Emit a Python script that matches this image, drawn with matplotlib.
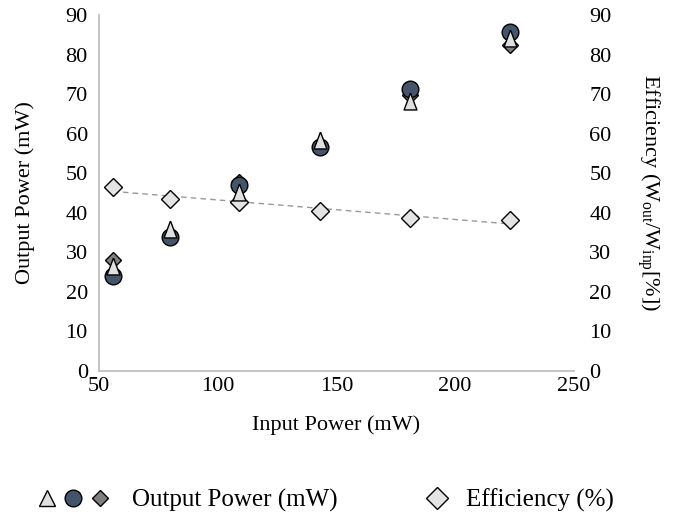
import numpy as np
import matplotlib as mpl
mpl.use('Agg')
import matplotlib.pyplot as plt
from matplotlib.legend_handler import HandlerTuple
from matplotlib.lines import Line2D

plt.rcParams['font.family'] = ['Liberation Serif', 'DejaVu Serif']
plt.rcParams['mathtext.fontset'] = 'custom'
plt.rcParams['mathtext.rm'] = 'Liberation Serif'

# input power (mW)
p_in = [56, 80, 109, 143, 181, 223]
# output power, three runs (mW)
out_tri = [26.5, 35.8, 45.2, 58.4, 68.3, 84.3]
out_circ = [24.0, 34.0, 47.0, 56.6, 71.3, 85.6]
out_diam = [28.0, 34.5, 47.8, 57.0, 69.8, 82.3]
# efficiency (%)
eff = [46.5, 43.5, 42.8, 40.5, 38.6, 38.1]

c_tri = '#e0e0e0'
c_circ = '#44546a'
c_diam = '#7f7f7f'
c_eff = '#e4e4e4'
fs = 16
lfs = 18

# tall excel-style triangle
tri = [(0, 0.5), (-0.38, -0.5), (0.38, -0.5), (0, 0.5)]

fig = plt.figure(figsize=(6.76, 5.25), dpi=100)
ax = fig.add_axes([0.1464, 0.2933, 0.7026, 0.6781])
ax2 = ax.twinx()

ax.plot(p_in, out_diam, 'D', ms=7.8, mfc=c_diam, mec='black', mew=1.0, zorder=3)
ax.plot(p_in, out_circ, 'o', ms=12, mfc=c_circ, mec='black', mew=1.0, zorder=4)
ax.plot(p_in, out_tri, ls='', marker=tri, ms=12.2, mfc=c_tri, mec='black',
        mew=1.0, zorder=5)

# linear trendline on efficiency
coef = np.polyfit(p_in, eff, 1)
xt = np.array([p_in[0], p_in[-1]])
ax2.plot(xt, np.polyval(coef, xt), '--', color='#999999', lw=1.0,
         dashes=(4, 3), zorder=2)
ax2.plot(p_in, eff, 'D', ms=9.6, mfc=c_eff, mec='black', mew=1.0, zorder=6)

for a in (ax, ax2):
    a.set_ylim(0, 90)
    a.set_yticks(np.arange(0, 91, 10))
    for s in ('top', 'right'):
        a.spines[s].set_visible(False)
    a.tick_params(length=0, labelsize=fs, pad=8)
ax2.tick_params(axis='y', pad=11)
ax2.spines['left'].set_visible(False)
ax2.spines['bottom'].set_visible(False)
ax.spines['left'].set_color('#bfbfbf')
ax.spines['bottom'].set_color('#bfbfbf')
ax.spines['left'].set_linewidth(1.3)
ax.spines['bottom'].set_linewidth(1.3)
ax.set_zorder(ax2.get_zorder() + 1)
ax.patch.set_visible(False)

ax.set_xlim(50, 250)
ax.set_xticks([50, 100, 150, 200, 250])
ax.tick_params(axis='x', pad=4)

ax.set_xlabel('Input Power (mW)', fontsize=fs, labelpad=14)
ax.set_ylabel('Output Power (mW)', fontsize=fs, labelpad=22)
ax2.set_ylabel(r'Efficiency (W$_{\mathrm{out}}$/W$_{\mathrm{inp}}$[%])',
               fontsize=fs, rotation=270, labelpad=36)

h_tri = Line2D([], [], ls='', marker='^', ms=11, mfc=c_tri, mec='black', mew=1.0)
h_circ = Line2D([], [], ls='', marker='o', ms=12, mfc=c_circ, mec='black', mew=1.0)
h_diam = Line2D([], [], ls='', marker='D', ms=8.5, mfc=c_diam, mec='black', mew=1.0)
h_eff = Line2D([], [], ls='', marker='D', ms=11, mfc=c_eff, mec='black', mew=1.0)
leg1 = fig.legend([(h_tri, h_circ, h_diam)], ['Output Power (mW)'],
                  handler_map={tuple: HandlerTuple(ndivide=None, pad=0.3)},
                  loc='center left', bbox_to_anchor=(0.055, 0.047),
                  frameon=False, fontsize=lfs, handlelength=2.9,
                  handletextpad=0.9, borderpad=0, borderaxespad=0)
fig.legend([h_eff], ['Efficiency (%)'], loc='center left',
           bbox_to_anchor=(0.624, 0.047), frameon=False, fontsize=lfs,
           handlelength=1.2, handletextpad=0.55, borderpad=0, borderaxespad=0)

fig.savefig('out.png', dpi=100)
